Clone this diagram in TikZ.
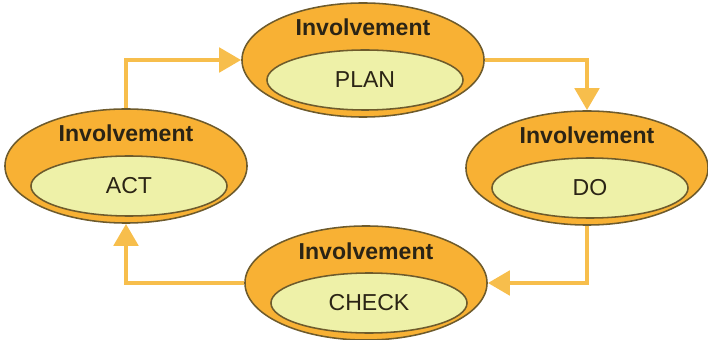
\documentclass[tikz,border=0pt]{standalone}
\usepackage{fontspec}
\setmainfont{Liberation Sans}
\usetikzlibrary{shapes.geometric, arrows.meta, positioning}

\definecolor{ringorange}{HTML}{F8B134}
\definecolor{corefill}{HTML}{EEF1A8}
\definecolor{rimline}{HTML}{6E5B2C}
\definecolor{flowline}{HTML}{F7BE4C}
\definecolor{inktext}{HTML}{2B2415}

\begin{document}
\begin{tikzpicture}[x=0.025cm, y=-0.025cm, every node/.style={font=\fontsize{16.4}{19}\selectfont, text=inktext}]
  \tikzset{
    ring/.style={ellipse, draw=rimline, line width=1.1pt, fill=ringorange, minimum width=6.05cm, minimum height=2.85cm, inner sep=0pt},
    core/.style={ellipse, draw=rimline, line width=1.1pt, fill=corefill, minimum width=4.9cm, minimum height=1.5cm, inner sep=0pt},
    tag/.style={anchor=base, font=\fontsize{16.4}{19}\selectfont\bfseries},
    flow/.style={draw=flowline, line width=3.5pt, -{Triangle[length=0.55cm, width=0.6cm]}}
  }
  \useasboundingbox (0,0) rectangle (708,340);

  % Stages
  \node (planring) [ring] at (363,60) {};
  \node (plan) [core] at (365,80) {PLAN};
  \node (plantag) [tag] at (363,36) {Involvement};

  \node (doring) [ring] at (587,168) {};
  \node (do) [core] at (590,188) {DO};
  \node (dotag) [tag] at (587,144) {Involvement};

  \node (checkring) [ring] at (366,283) {};
  \node (check) [core] at (369,303) {CHECK};
  \node (checktag) [tag] at (366,259) {Involvement};

  \node (actring) [ring] at (126,166) {};
  \node (act) [core] at (129,186) {ACT};
  \node (acttag) [tag] at (126,142) {Involvement};

  % Arrows
  \draw[flow] (planring.east) -| (doring.north);
  \draw[flow] (doring.south) |- (checkring.east);
  \draw[flow] (checkring.west) -| (actring.south);
  \draw[flow] (actring.north) |- (planring.west);
\end{tikzpicture}
\end{document}
